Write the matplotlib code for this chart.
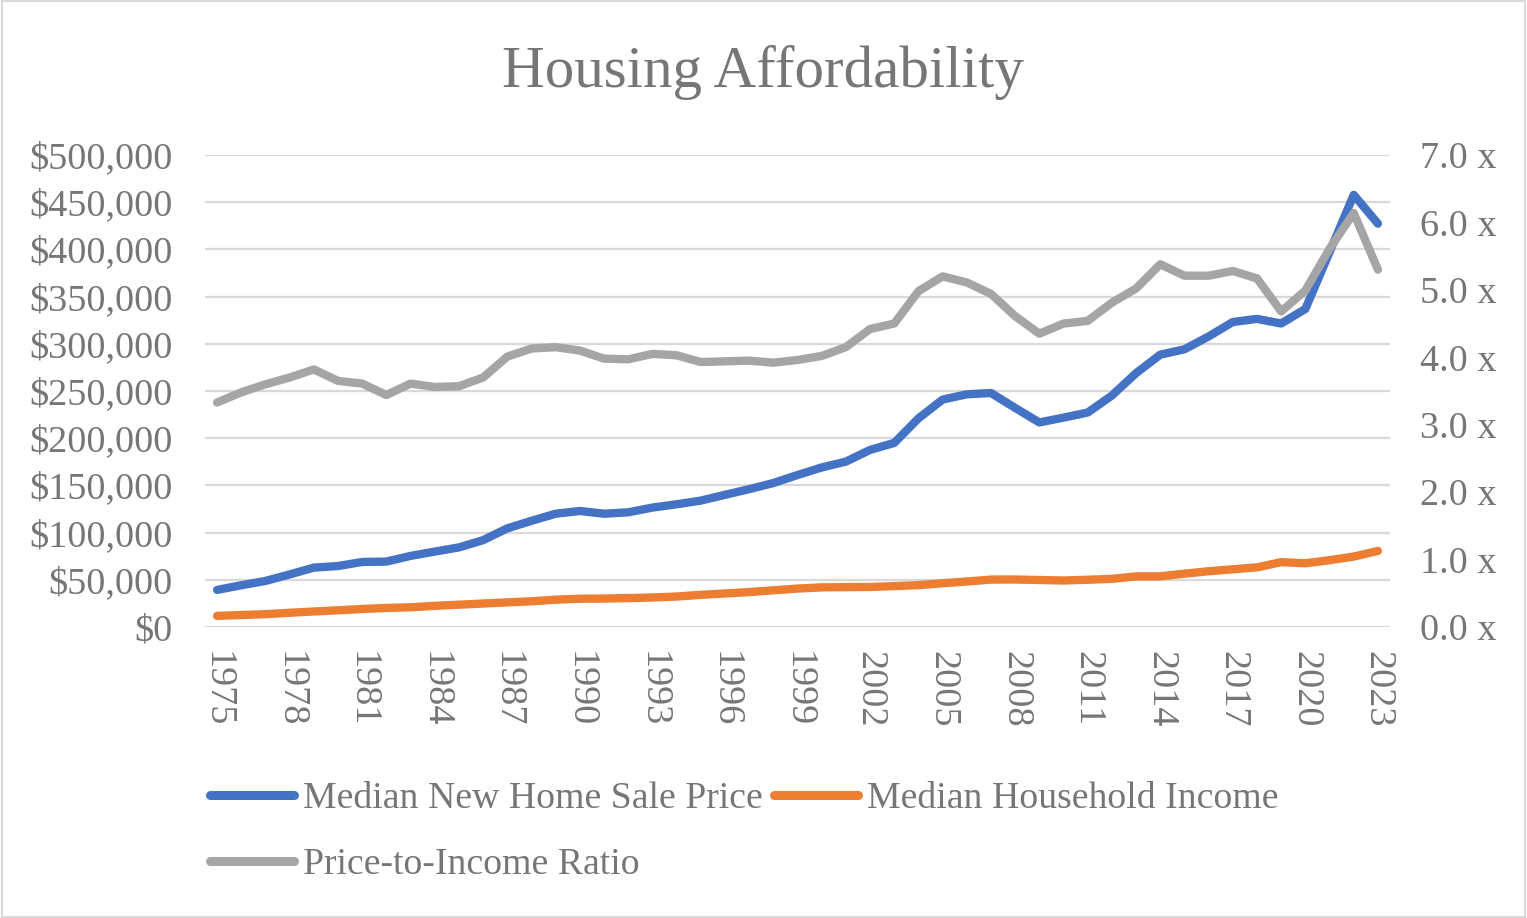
import matplotlib
matplotlib.use("Agg")
import matplotlib.pyplot as plt
from matplotlib.ticker import FuncFormatter, MultipleLocator
from matplotlib.patches import Rectangle
from matplotlib.lines import Line2D

years = list(range(1975, 2024))
home_price = [39300, 44200, 48800, 55700, 62900, 64600, 68900, 69300, 75300, 79900,
              84300, 92000, 104500, 112500, 120000, 122900, 120000, 121500, 126500, 130000,
              133900, 140000, 146000, 152500, 161000, 169000, 175200, 187600, 195000, 221000,
              240900, 246500, 247900, 232100, 216700, 221800, 227200, 245200, 268900, 288500,
              294200, 307800, 323100, 326400, 321500, 336900, 397100, 457800, 427300]
income = [11800, 12686, 13572, 15064, 16461, 17710, 19074, 20171, 20885, 22415,
          23618, 24897, 26061, 27225, 28906, 29943, 30126, 30636, 31241, 32264,
          34076, 35492, 37005, 38885, 40696, 41990, 42228, 42409, 43318, 44334,
          46326, 48201, 50233, 50303, 49777, 49276, 50054, 51017, 53585, 53657,
          56516, 59039, 61136, 63179, 68703, 67521, 70784, 74580, 80610]
ratio = [3.33, 3.48, 3.60, 3.70, 3.82, 3.65, 3.61, 3.44, 3.61, 3.56,
         3.57, 3.70, 4.01, 4.13, 4.15, 4.10, 3.98, 3.97, 4.05, 4.03,
         3.93, 3.94, 3.95, 3.92, 3.96, 4.02, 4.15, 4.42, 4.50, 4.98,
         5.20, 5.11, 4.94, 4.61, 4.35, 4.50, 4.54, 4.81, 5.02, 5.38,
         5.21, 5.21, 5.28, 5.17, 4.68, 4.99, 5.61, 6.14, 5.30]
series_names = ["Median New Home Sale Price", "Median Household Income", "Price-to-Income Ratio"]
title = "Housing Affordability"

BLUE, ORANGE, GRAY = "#4472C4", "#ED7D31", "#A5A5A5"
TXT = "#767676"
GRID = "#D9D9D9"

plt.rcParams['font.family'] = ['Liberation Serif', 'DejaVu Serif']

fig = plt.figure(figsize=(15.27, 9.18), dpi=100)
W, H = 1527, 918
left, right, top, bottom = 205, 1390, 155, 627
ax = fig.add_axes([left / W, 1 - bottom / H, (right - left) / W, (bottom - top) / H])
ax2 = ax.twinx()

lw = 6
kw = dict(lw=lw, solid_capstyle='round', solid_joinstyle='round', zorder=3)
ax.plot(years, home_price, color=BLUE, **kw)
ax.plot(years, income, color=ORANGE, **kw)
ax2.plot(years, ratio, color=GRAY, **kw)

ax.set_xlim(1974.5, 2023.5)
ax.set_ylim(0, 500000)
ax2.set_ylim(0, 7.0)
ax.yaxis.set_major_locator(MultipleLocator(50000))
ax2.yaxis.set_major_locator(MultipleLocator(1.0))
ax.yaxis.set_major_formatter(FuncFormatter(lambda v, p: "${:,.0f}".format(v)))
ax2.yaxis.set_major_formatter(FuncFormatter(lambda v, p: "{:.1f} x".format(v)))
ax.set_xticks(years[::3])
ax.set_xticklabels([str(y) for y in years[::3]], rotation=-90, va='top', ha='center')

ax.grid(axis='y', color=GRID, lw=1.6, zorder=0)
ax.set_axisbelow(True)
for a in (ax, ax2):
    for s in a.spines.values():
        s.set_visible(False)
    a.tick_params(length=0, labelsize=27.5, labelcolor=TXT)
ax.tick_params(axis='y', pad=23)
ax2.tick_params(axis='y', pad=21.5)
ax.tick_params(axis='x', pad=17.5)

fig.text(0.5, 1 - 72 / H, title, ha='center', va='center', fontsize=42.5, color=TXT)

h_blue = Line2D([], [], color=BLUE, lw=lw + 0.5, solid_capstyle='round')
h_orange = Line2D([], [], color=ORANGE, lw=lw + 0.5, solid_capstyle='round')
h_gray = Line2D([], [], color=GRAY, lw=lw + 0.5, solid_capstyle='round')
leg = fig.legend([h_blue, h_gray, h_orange], [series_names[0], series_names[2], series_names[1]],
                 ncol=2, loc='upper left', bbox_to_anchor=(210 / W, 1 - 782 / H),
                 frameon=False, fontsize=27.2, handlelength=2.22, handletextpad=0.25,
                 columnspacing=0.28, labelspacing=0.82, borderpad=0, borderaxespad=0)
for t in leg.get_texts():
    t.set_color(TXT)

fig.patches.append(Rectangle((0.001, 0.001), 0.998, 0.998, transform=fig.transFigure,
                             fill=False, edgecolor=GRID, lw=1.5))
fig.savefig("out.png", dpi=100)
